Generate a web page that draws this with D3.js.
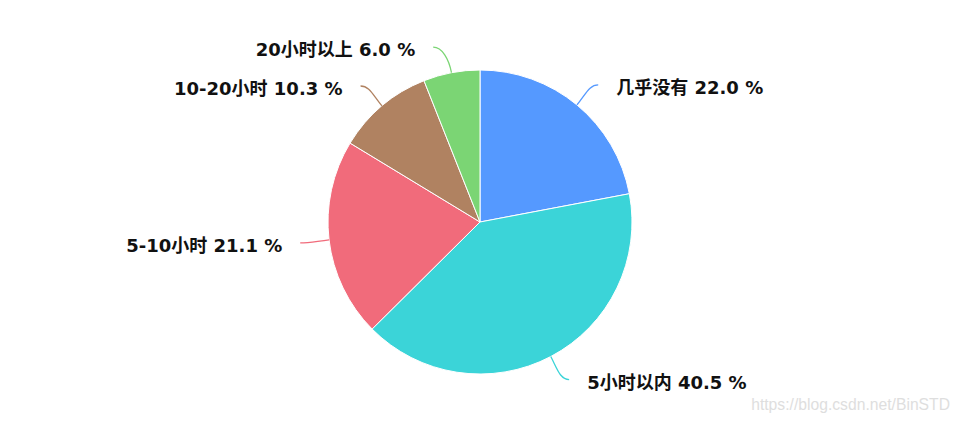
<!DOCTYPE html>
<html>
<head>
<meta charset="utf-8" />
<title>pie</title>
<style>
html, body {
	margin: 0px;
	padding: 0px;
	background: #fff;
}
svg text {
	font-family: "DejaVu Sans", Verdana, "Noto Sans CJK SC", sans-serif;
}
</style>
</head>
<body>
<svg id="chart" width="960" height="421"></svg>
<script src="https://d3js.org/d3.v7.min.js"></script>
<script>

// 数据
var categories = ["几乎没有", "5小时以内", "5-10小时", "10-20小时", "20小时以上"];
var values = [22.0, 40.5, 21.1, 10.3, 6.0];
var colors = ["#5599ff", "#3bd4d8", "#f16b7b", "#b08261", "#7bd574"];
var watermark = "https://blog.csdn.net/BinSTD";

var cx = 480, cy = 222, R = 152;
var labelDist = 26;   // 标签的纵向距离
var labelRing = 181;  // 标签的横向半径

var svg = d3.select("#chart");
var g = svg.append("g").attr("transform", "translate(" + cx + "," + cy + ")");

var data = categories.map(function(c, i){ return {name: c, value: values[i], color: colors[i]}; });

var pie = d3.pie().sort(null).value(function(d){ return d.value; });
var arc = d3.arc().innerRadius(0).outerRadius(R);
var arcs = pie(data);

// 扇形
g.selectAll("path.slice")
	.data(arcs)
	.enter()
	.append("path")
		.attr("class", "slice")
		.attr("d", arc)
		.attr("fill", function(d){ return d.data.color; })
		.attr("stroke", "#fff")
		.attr("stroke-width", 1);

function pt(a, r){
	return [r * Math.sin(a), -r * Math.cos(a)];
}

// 标签与连接线 (y取径向位置, x按圆环求出)
arcs.forEach(function(d){
	var a = (d.startAngle + d.endAngle) / 2;
	var side = Math.sin(a) >= 0 ? 1 : -1;
	var p0 = pt(a, R);
	var ey = -(R + labelDist) * Math.cos(a);
	var ex = side * Math.sqrt(Math.max(0, labelRing * labelRing - ey * ey));
	var end = [ex, ey];
	var c1 = pt(a, R + 14);
	var c2 = [end[0] - side * 9, end[1]];

	g.append("path")
		.attr("d", "M" + p0 + "C" + c1 + " " + c2 + " " + end)
		.attr("fill", "none")
		.attr("stroke", d.data.color)
		.attr("stroke-width", 1.3);

	g.append("text")
		.attr("x", end[0] + side * 18)
		.attr("y", end[1] + 3)
		.attr("dy", "0.35em")
		.attr("text-anchor", side > 0 ? "start" : "end")
		.attr("font-size", 18)
		.attr("font-weight", "bold")
		.attr("fill", "#111")
		.text(d.data.name + " " + d.data.value.toFixed(1) + " %");
});

// 水印
svg.append("text")
	.attr("x", 950)
	.attr("y", 410)
	.attr("text-anchor", "end")
	.attr("font-size", 15.7)
	.attr("fill", "#dedede")
	.style("font-family", "Arial, 'Liberation Sans', sans-serif")
	.text(watermark);

</script>
</body>
</html>
